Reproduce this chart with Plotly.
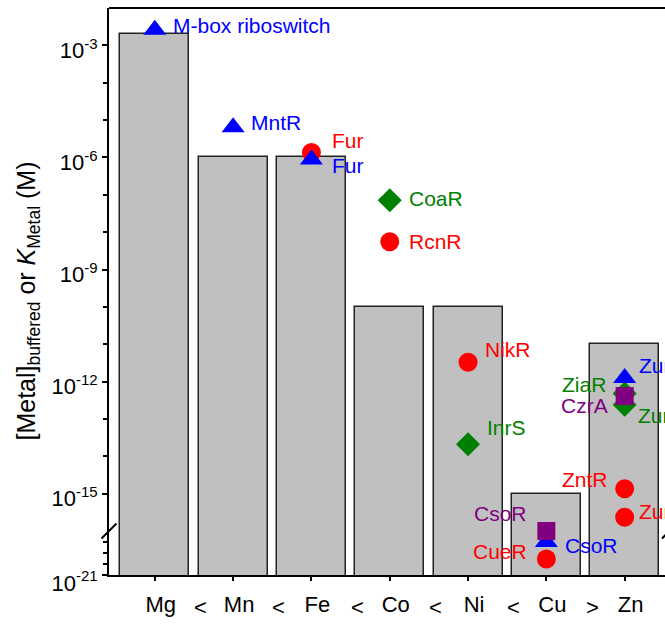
import math
import plotly.graph_objects as go

# ---------------- data ----------------
metals = ["Mg", "Mn", "Fe", "Co", "Ni", "Cu", "Zn"]
relations = ["<", "<", "<", "<", "<", ">"]
buffered = [2.0e-3, 1.0e-6, 1.0e-6, 1.0e-10, 1.0e-10, 1.0e-15, 1.0e-11]

tri_names = ["M-box riboswitch", "MntR", "Fur", "CsoR", "Zur"]
tri_metals = ["Mg", "Mn", "Fe", "Cu", "Zn"]
tri_values = [2.6e-3, 6.4e-6, 8.8e-7, 1.0e-18, 1.24e-12]

circ_names = ["Fur", "RcnR", "NikR", "CueR", "ZntR", "Zur"]
circ_metals = ["Fe", "Co", "Ni", "Cu", "Zn", "Zn"]
circ_values = [1.36e-6, 5.5e-9, 3.3e-12, 2.85e-20, 1.35e-15, 2.34e-16]

dia_names = ["CoaR", "InrS", "ZiaR", "Zur"]
dia_metals = ["Co", "Ni", "Zn", "Zn"]
dia_values = [7.1e-8, 2.1e-14, 4.8e-13, 2.4e-13]

sq_names = ["CsoR", "CzrA"]
sq_metals = ["Cu", "Zn"]
sq_values = [1.0e-17, 4.1e-13]

upper_tickvals = [1e-3, 1e-6, 1e-9, 1e-12, 1e-15]
upper_exponents = ["-3", "-6", "-9", "-12", "-15"]
upper_minor = [1e-4, 1e-5, 1e-7, 1e-8, 1e-10, 1e-11, 1e-13, 1e-14]
lower_tickvals = [1e-21]
lower_exponents = ["-21"]
lower_minor = [1e-20, 1e-19, 1e-18]

# ---------------- layout / style ----------------
W, H = 665, 625
ML, MT, MB = 109, 8, 50
XRANGE = [-0.585, 6.515]
UPPER_RANGE = [-16, -2]
LOWER_RANGE = [-21, -17]
SPLIT = 44 / (H - MT - MB)  # fraction of plot height for the lower panel
BREAK = 10 ** UPPER_RANGE[0]

FONT = "Liberation Sans, Arial, sans-serif"
LBL = 21


def power_label(e):
    return "10<sup><span style='font-size:15px'>%s</span></sup>" % e


groups = [
    # (names, metals, values, symbol, size, color, label offsets (dx, dy, anchor))
    (circ_names, circ_metals, circ_values, "circle", 19, "#ff0000",
     [(18.6, 12, "left"), (17, 0, "left"), (15, 12.5, "left"),
      (-17.3, 8, "right"), (-14.6, 9, "right"), (12.4, 6, "left")]),
    (dia_names, dia_metals, dia_values, "diamond", 18.5, "#008000",
     [(17, 1.5, "left"), (17, 16.7, "left"), (-16.6, 9, "right"), (11.4, -11, "left")]),
    (tri_names, tri_metals, tri_values, "triangle-up", 20, "#0000ff",
     [(16, 4.5, "left"), (15.5, 5, "left"), (18.6, -6, "left"),
      (16.4, -3, "left"), (12.4, 12.5, "left")]),
    (sq_names, sq_metals, sq_values, "square", 18, "#800080",
     [(-17.3, 18, "right"), (-14.6, -9.5, "right")]),
]

fig = go.Figure()

# bars on both panels
for yax in ("y", "y2"):
    fig.add_trace(go.Bar(
        x=metals, y=buffered, width=0.88, xaxis="x", yaxis=yax,
        marker=dict(color="#c0c0c0", line=dict(color="#222222", width=1.5)),
        showlegend=False, hoverinfo="skip"))

# white dashed break line (between bars and markers)
fig.add_trace(go.Scatter(
    x=[XRANGE[0], XRANGE[1] + 0.2], y=[BREAK, BREAK], xaxis="x", yaxis="y",
    mode="lines", line=dict(color="white", width=2, dash="7px,4px"),
    cliponaxis=False, showlegend=False, hoverinfo="skip"))

annotations = []
for names, mets, vals, sym, size, col, offs in groups:
    for panel in ("y", "y2"):
        sel = [i for i, v in enumerate(vals) if (v >= BREAK) == (panel == "y")]
        if not sel:
            continue
        fig.add_trace(go.Scatter(
            x=[mets[i] for i in sel], y=[vals[i] for i in sel],
            xaxis="x", yaxis=panel, mode="markers", cliponaxis=False,
            marker=dict(symbol=sym, size=size, color=col, line=dict(width=0)),
            showlegend=False, hoverinfo="skip"))
        for i in sel:
            dx, dy, anc = offs[i]
            annotations.append(dict(
                x=metals.index(mets[i]), y=math.log10(vals[i]),
                xref="x", yref=panel, text=names[i], showarrow=False,
                xanchor=anc, yanchor="middle", xshift=dx, yshift=dy,
                font=dict(family=FONT, size=LBL, color=col)))

# relation symbols between metal labels
for i, r in enumerate(relations):
    annotations.append(dict(
        x=i + 0.5, y=0, xref="x", yref="paper", text=r, showarrow=False,
        xanchor="center", yanchor="top", xshift=6.5, yshift=-18,
        font=dict(family=FONT, size=22, color="black")))

# y-axis title
annotations.append(dict(
    x=0, y=(H - MB - 301) / (H - MT - MB), xref="paper", yref="paper",
    xshift=-81.5, xanchor="center", yanchor="middle", textangle=-90,
    text="[Metal]<sub>buffered</sub> or <i>K</i><sub>Metal</sub> (M)",
    showarrow=False, font=dict(family=FONT, size=25, color="black")))

shapes = [
    # top frame line
    dict(type="line", xref="paper", yref="paper", x0=0, x1=1.05, y0=1, y1=1,
         line=dict(color="black", width=2)),
    # axis break marks (left and right spines)
    dict(type="line", xref="paper", yref="paper", xsizemode="pixel", ysizemode="pixel",
         xanchor=0, yanchor=SPLIT, x0=-7.5, x1=7.5, y0=-7.5, y1=7.5,
         line=dict(color="black", width=2)),
    dict(type="line", xref="paper", yref="paper", xsizemode="pixel", ysizemode="pixel",
         xanchor=1, yanchor=SPLIT, x0=-3, x1=12, y0=-7.5, y1=7.5,
         line=dict(color="black", width=2)),
]

axis_common = dict(showgrid=False, zeroline=False, showline=True, linecolor="black",
                   linewidth=2, ticks="outside", tickcolor="black", tickwidth=1.5,
                   tickfont=dict(family=FONT, size=22, color="black"), automargin=False)

fig.update_layout(
    width=W, height=H,
    margin=dict(l=ML, r=0, t=MT, b=MB, pad=0),
    paper_bgcolor="white", plot_bgcolor="white",
    bargap=0, showlegend=False,
    font=dict(family=FONT, color="black"),
    xaxis=dict(axis_common, type="category", categoryorder="array",
               categoryarray=metals, range=XRANGE, anchor="y2", ticklen=4,
               ticklabelshift=6, ticklabelstandoff=5),
    yaxis=dict(axis_common, type="log", range=UPPER_RANGE, domain=[SPLIT, 1],
               anchor="x", tickvals=upper_tickvals,
               ticktext=[power_label(e) for e in upper_exponents],
               ticklen=5, ticklabelshift=5, tickfont=dict(family=FONT, size=22),
               minor=dict(tickvals=upper_minor, ticks="outside", ticklen=4,
                          tickwidth=1.5, tickcolor="black")),
    yaxis2=dict(axis_common, type="log", range=LOWER_RANGE, domain=[0, SPLIT],
                anchor="x", tickvals=lower_tickvals,
                ticktext=[power_label(e) for e in lower_exponents],
                ticklen=5, ticklabelshift=8, tickfont=dict(family=FONT, size=22),
                minor=dict(tickvals=lower_minor, ticks="outside", ticklen=4,
                           tickwidth=1.5, tickcolor="black")),
    annotations=annotations,
    shapes=shapes,
)

fig.write_html("out.html", config={"displayModeBar": False},
               post_script="document.body.style.margin='0';document.body.style.overflow='hidden';")
